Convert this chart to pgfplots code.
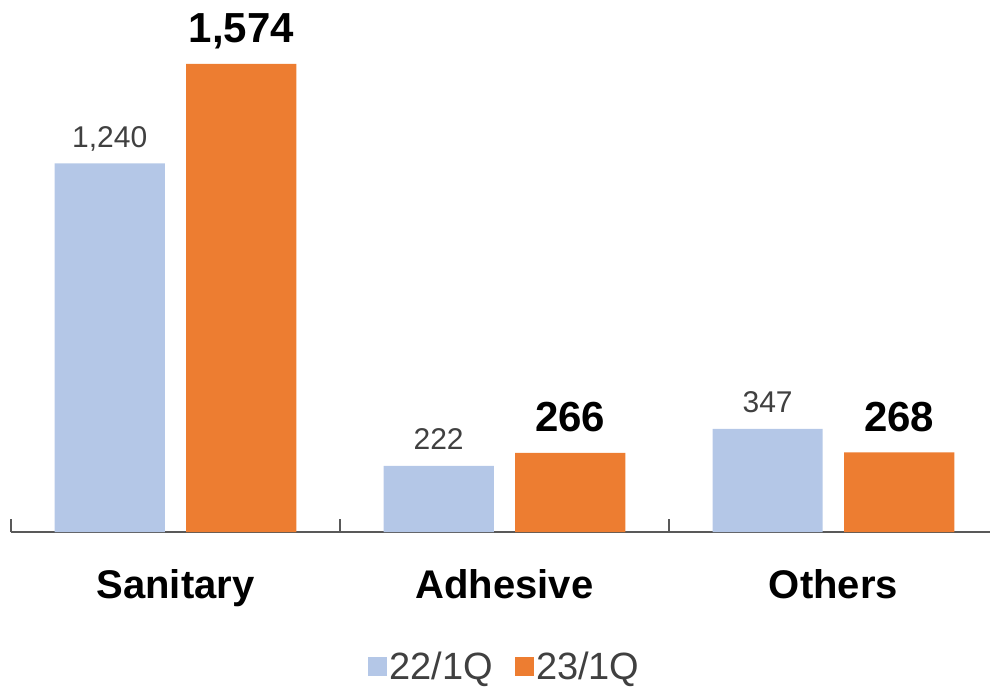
\documentclass[border=0pt]{standalone}
\usepackage{pgfplots}
\pgfplotsset{compat=1.18}
\usepackage{fontspec}
\setmainfont{Liberation Sans}
\definecolor{cblue}{HTML}{B4C7E7}
\definecolor{corange}{HTML}{ED7D31}
\definecolor{axgray}{HTML}{595959}
\definecolor{txtgray}{HTML}{404040}
\begin{document}
\begin{tikzpicture}[x=1pt,y=1pt]
\useasboundingbox (-11,-155) rectangle (979,532);
\begin{axis}[
  at={(0,0)}, anchor=south west,
  scale only axis, width=979pt, height=532pt,
  xmin=-0.5, xmax=2.476, ymin=0, ymax=1789,
  axis y line=none, axis x line*=bottom,
  x axis line style={-, draw=axgray, line width=2pt},
  xtick={0,1,2}, xticklabels={Sanitary,Adhesive,Others},
  major tick length=0pt,
  xticklabel style={font=\fontsize{40}{46}\selectfont\bfseries, text=black, anchor=base, yshift=-66pt},
  ybar, bar width=0.335,
  nodes near coords, point meta=explicit symbolic,
  clip=false,
  legend style={draw=none, fill=none, at={(0.5046,-0.252)}, anchor=center, legend columns=2,
    font=\fontsize{38}{42}\selectfont, text=txtgray,
    /tikz/every even column/.append style={column sep=20pt},
    cells={inner xsep=5pt}},
  legend image code/.code={\fill[#1] (0pt,-9.5pt) rectangle (19pt,9.5pt);},
]
\addplot[fill=cblue, draw=none, bar shift=-0.2,
  nodes near coords style={font=\fontsize{30}{34}\selectfont, text=txtgray, anchor=base, yshift=16pt}]
  coordinates {(0,1240) [{1,240}] (1,222) [222] (2,347) [347]};
\addplot[fill=corange, draw=none, bar shift=0.2,
  nodes near coords style={font=\fontsize{42}{48}\selectfont\bfseries, text=black, anchor=base, yshift=21pt}]
  coordinates {(0,1574) [{1,574}] (1,266) [266] (2,268) [268]};
\legend{22/1Q,23/1Q}
\draw[axgray, line width=2pt] (axis cs:-0.5,0) -- ++(0pt,13pt);
\draw[axgray, line width=2pt] (axis cs:0.5,0) -- ++(0pt,13pt);
\draw[axgray, line width=2pt] (axis cs:1.5,0) -- ++(0pt,13pt);
\end{axis}
\end{tikzpicture}
\end{document}
